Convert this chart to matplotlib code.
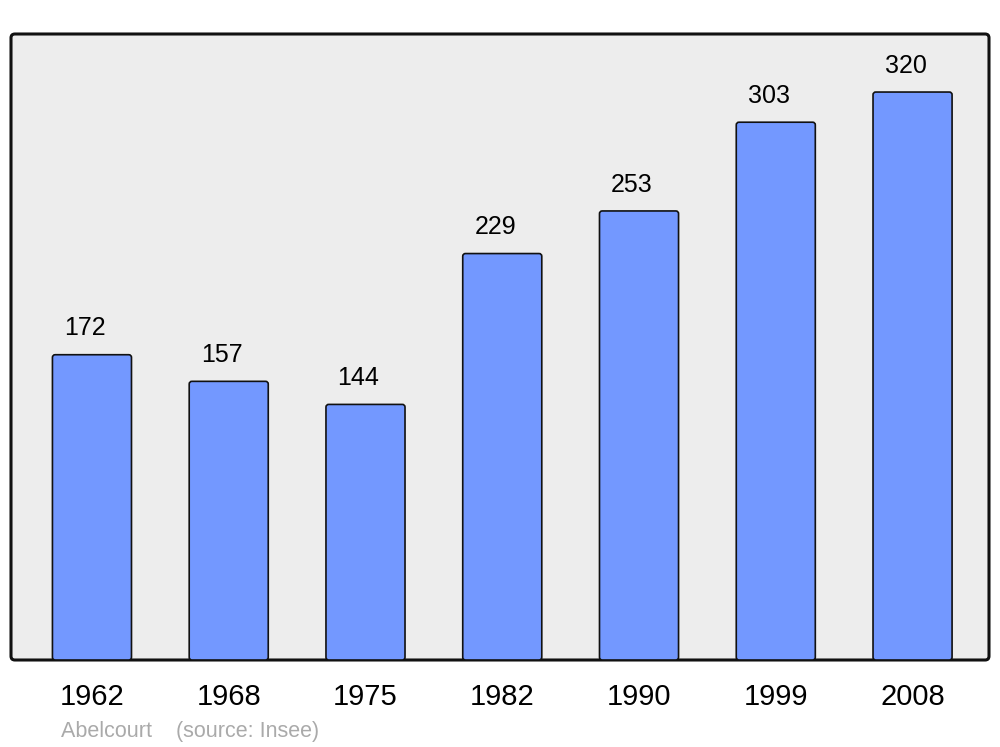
import matplotlib.pyplot as plt
from matplotlib.patches import FancyBboxPatch

years = ['1962', '1968', '1975', '1982', '1990', '1999', '2008']
population = [172, 157, 144, 229, 253, 303, 320]
source_text = 'Abelcourt    (source: Insee)'

plt.rcParams['font.family'] = ['Liberation Sans', 'DejaVu Sans']

fig = plt.figure(figsize=(10, 7.47), dpi=100)
ax = fig.add_axes([0.011, 1 - 660 / 747, 0.978, 626 / 747])

ax.set_xlim(-0.592, 6.559)
ax.set_ylim(0, 352.7)

# background frame with rounded corners
ax.patch.set_visible(False)
for s in ax.spines.values():
    s.set_visible(False)
frame = FancyBboxPatch((0, 0), 1, 1, boxstyle='round,pad=0,rounding_size=0.004',
                       mutation_aspect=1.55, transform=ax.transAxes,
                       facecolor='#EDEDED', edgecolor='#111111', linewidth=2.2,
                       zorder=0, clip_on=False)
ax.add_patch(frame)

xs = range(len(years))
bars = ax.bar(xs, population, width=0.578, color='#7398FF', edgecolor='#111111',
              linewidth=1.2, zorder=2)

# swap bars for rounded ones
for b in bars:
    b.set_visible(False)
    rb = FancyBboxPatch((b.get_x(), b.get_y()), b.get_width(), b.get_height(),
                        boxstyle='round,pad=0,rounding_size=0.02', mutation_aspect=77,
                        facecolor='#7398FF', edgecolor='#111111', linewidth=1.2, zorder=2)
    ax.add_patch(rb)

for x, v in zip(xs, population):
    ax.annotate(str(v), (x, v), xytext=(-5, 14), textcoords='offset points',
                ha='center', va='baseline', fontsize=18, color='black')

ax.set_xticks(list(xs))
ax.set_xticklabels(years, fontsize=21)
ax.tick_params(axis='x', length=0, pad=16.5)
ax.set_yticks([])

fig.text(61 / 1000, 1 - 731 / 747, source_text, ha='left', va='center',
         fontsize=15.5, color='#AAAAAA')

plt.savefig('out.png', dpi=100)
